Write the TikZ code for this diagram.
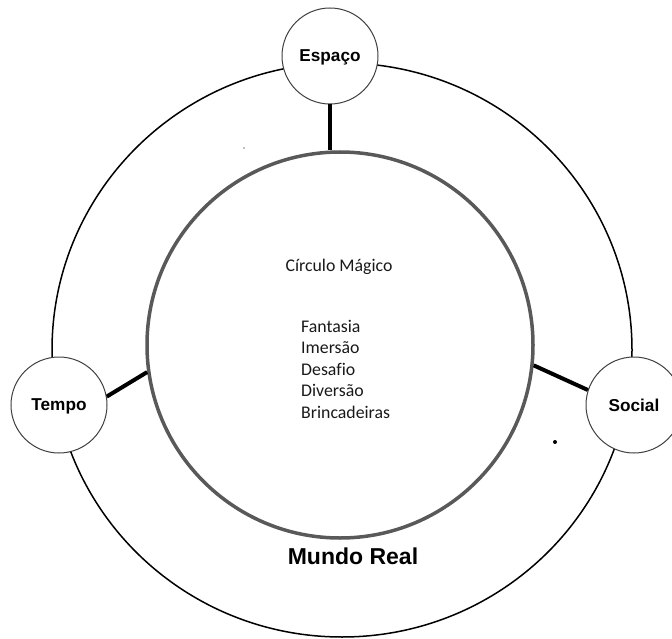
\documentclass[tikz,border=0pt]{standalone}
\usepackage{fontspec}
\newfontfamily\labfont{Liberation Sans}
\newfontfamily\carlfont[Ligatures=NoCommon]{Carlito}
\begin{document}
\begin{tikzpicture}[x=1pt,y=-1pt,
  smallcircle/.style={circle,draw=black!75,line width=1pt,fill=white,minimum size=96pt,inner sep=0pt,
    text depth=0pt,font=\labfont\bfseries\fontsize{17.2}{20}\selectfont},
  link/.style={line width=4pt,black},
  listtext/.style={font=\carlfont\fontsize{17.8}{21.5}\selectfont,text=black!90,inner sep=0pt}]
\useasboundingbox (0,0) rectangle (672,639);
\draw[line width=1.5pt] (342,350) ellipse [x radius=290pt, y radius=287pt];
\node[circle,draw=black!65,line width=3.5pt,minimum size=386pt,inner sep=0pt] (magic) at (340,345) {};
\node[smallcircle] (esp) at (330,56) {Espaço};
\node[smallcircle] (tempo) at (59,405) {Tempo};
\node[smallcircle] (social) at (634,405) {Social};
\draw[link] (esp.south) -- (esp.south |- magic.north);
\draw[link] (tempo.10) -- (magic.188);
\draw[link] (magic.-6) -- (social.162);
\node[listtext,anchor=base] (title) at (339,271) {Círculo Mágico};
\node[listtext,anchor=base west] (l1) at (301,332) {Fantasia};
\node[listtext,anchor=base west] (l2) at (301,353.5) {Imersão};
\node[listtext,anchor=base west] (l3) at (301,375) {Desafio};
\node[listtext,anchor=base west] (l4) at (301,396.5) {Diversão};
\node[listtext,anchor=base west] (l5) at (301,418) {Brincadeiras};
\node[font=\labfont\bfseries\fontsize{23}{27}\selectfont,anchor=base,inner sep=0pt] (real) at (353,564) {Mundo Real};
\fill[black] (555,442) circle [radius=2pt];
\fill[black!50] (244,148) circle [radius=0.8pt];
\end{tikzpicture}
\end{document}
